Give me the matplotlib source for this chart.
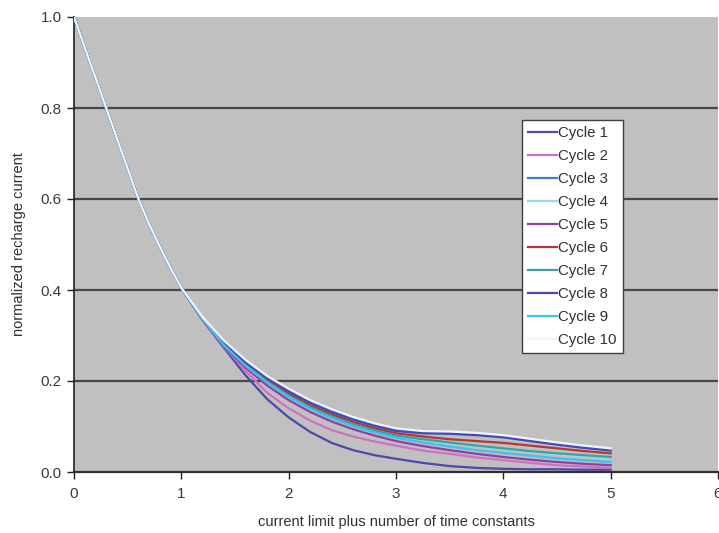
import matplotlib
matplotlib.use("Agg")
import matplotlib.pyplot as plt

plt.rcParams['font.family'] = ['Liberation Sans', 'DejaVu Sans']

x = [0, 0.1, 0.2, 0.3, 0.4, 0.5, 0.6, 0.7, 0.8, 0.9, 1.0,
     1.2, 1.4, 1.6, 1.8, 2.0, 2.2, 2.4, 2.6, 2.8, 3.0,
     3.25, 3.5, 3.75, 4.0, 4.25, 4.5, 4.75, 5.0]

head = [1.0, 0.933, 0.867, 0.80, 0.733, 0.667, 0.600, 0.545, 0.495, 0.448, 0.405]

cycle1 = head + [0.333, 0.272, 0.212, 0.160, 0.120, 0.088, 0.064, 0.048, 0.037, 0.029,
                 0.020, 0.013, 0.009, 0.007, 0.006, 0.006, 0.005, 0.005]
cycle2 = head + [0.333, 0.275, 0.222, 0.174, 0.140, 0.113, 0.092, 0.078, 0.067, 0.058,
                 0.047, 0.040, 0.032, 0.026, 0.020, 0.015, 0.012, 0.009]
cycle3 = head + [0.338, 0.285, 0.243, 0.208, 0.180, 0.155, 0.135, 0.118, 0.104, 0.093,
                 0.087, 0.086, 0.083, 0.078, 0.070, 0.062, 0.055, 0.049]
cycle4 = head + [0.336, 0.280, 0.236, 0.200, 0.170, 0.144, 0.123, 0.106, 0.092, 0.080,
                 0.071, 0.063, 0.056, 0.050, 0.044, 0.038, 0.034, 0.030]
cycle5 = head + [0.334, 0.276, 0.229, 0.190, 0.158, 0.132, 0.111, 0.094, 0.080, 0.068,
                 0.057, 0.048, 0.040, 0.033, 0.027, 0.022, 0.018, 0.015]
cycle6 = head + [0.336, 0.281, 0.238, 0.202, 0.172, 0.147, 0.127, 0.110, 0.096, 0.085,
                 0.078, 0.072, 0.068, 0.064, 0.058, 0.052, 0.046, 0.041]
cycle7 = head + [0.335, 0.279, 0.235, 0.199, 0.168, 0.143, 0.122, 0.105, 0.091, 0.080,
                 0.072, 0.065, 0.058, 0.052, 0.046, 0.041, 0.037, 0.033]
cycle8 = head + [0.337, 0.283, 0.241, 0.206, 0.177, 0.152, 0.132, 0.115, 0.101, 0.090,
                 0.085, 0.084, 0.081, 0.076, 0.068, 0.060, 0.053, 0.047]
cycle9 = head + [0.335, 0.278, 0.233, 0.196, 0.165, 0.139, 0.118, 0.101, 0.087, 0.075,
                 0.065, 0.056, 0.048, 0.042, 0.036, 0.030, 0.026, 0.022]
cycle10 = head + [0.340, 0.288, 0.246, 0.211, 0.183, 0.158, 0.138, 0.121, 0.107, 0.096,
                  0.090, 0.089, 0.086, 0.081, 0.073, 0.065, 0.058, 0.052]

series = [cycle1, cycle2, cycle3, cycle4, cycle5, cycle6, cycle7, cycle8, cycle9, cycle10]
labels = ["Cycle %d" % i for i in range(1, 11)]
colors = ['#4a4aa8', '#d070c0', '#3a7ed0', '#98d8e8', '#9040a0',
          '#b03a30', '#40a0a0', '#4848b8', '#40c0f0', '#eef6fa']

fig = plt.figure(figsize=(7.19, 5.33), dpi=100)
ax = fig.add_axes([74/719, 1 - 472/533, 644/719, 455/533])
ax.set_facecolor('#c0c0c0')

for yv in [0.2, 0.4, 0.6, 0.8]:
    ax.axhline(yv, color='#484848', lw=1.6, zorder=1)

for s, lab, c in zip(series, labels, colors):
    ax.plot(x, s, color=c, lw=1.6, label=lab, zorder=3,
            solid_joinstyle='round')

ax.set_xlim(0, 6)
ax.set_ylim(0, 1.0)
ax.set_xticks(range(0, 7))
ax.set_yticks([0.0, 0.2, 0.4, 0.6, 0.8, 1.0])
ax.set_yticklabels(['0.0', '0.2', '0.4', '0.6', '0.8', '1.0'])
ax.tick_params(axis='both', direction='out', length=5, width=1, color='#202020',
               labelsize=11, labelcolor='#3a3a3a')
ax.tick_params(axis='x', pad=6)
ax.tick_params(axis='y', pad=4)
for sp in ['top', 'right']:
    ax.spines[sp].set_visible(False)
ax.spines['left'].set_color('#202020')
ax.spines['bottom'].set_color('#303030')
ax.spines['left'].set_linewidth(1.2)
ax.spines['bottom'].set_linewidth(1.6)

ax.set_xlabel('current limit plus number of time constants', fontsize=10.5,
              color='#303030', labelpad=10)
ax.set_ylabel('normalized recharge current', fontsize=10.5, color='#303030', labelpad=10)

leg = ax.legend(loc='upper left', bbox_to_anchor=((522-74)/644, (472-120)/455),
                borderaxespad=0, fontsize=10.8, frameon=True, fancybox=False,
                handlelength=1.9, handletextpad=0.1, labelspacing=0.6,
                borderpad=0.4)
leg.get_frame().set_edgecolor('#404040')
leg.get_frame().set_linewidth(1.0)
leg.get_frame().set_facecolor('white')
leg.get_frame().set_alpha(1)
for t in leg.get_texts():
    t.set_color('#303030')

fig.savefig('out.png', dpi=100)
